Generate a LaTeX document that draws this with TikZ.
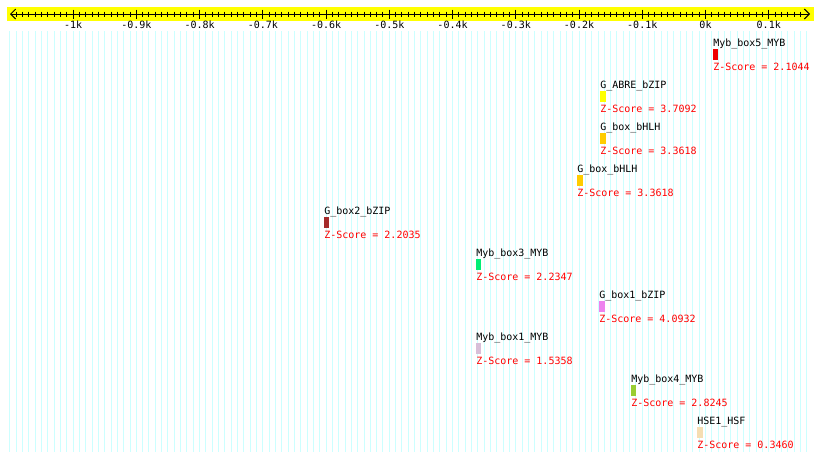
\documentclass[tikz,border=0pt]{standalone}
\usepackage{fontspec}
\setmonofont{DejaVu Sans Mono}
\usetikzlibrary{arrows.meta, positioning}
\definecolor{axisyellow}{HTML}{FFFF00}
\definecolor{gridcyan}{HTML}{CCFFFF}
\definecolor{zred}{HTML}{FF0000}
\definecolor{mred}{HTML}{EE0000}
\definecolor{myellow}{HTML}{FFFF00}
\definecolor{mgold}{HTML}{FFCC00}
\definecolor{mbrown}{HTML}{A52A2A}
\definecolor{mgreen}{HTML}{00EE76}
\definecolor{mviolet}{HTML}{EE82EE}
\definecolor{mthistle}{HTML}{D8BFD8}
\definecolor{molive}{HTML}{9ACD32}
\definecolor{mwheat}{HTML}{F5DEB3}

\begin{document}
\begin{tikzpicture}[x=0.75pt,y=-0.75pt,
    gridln/.style={draw=gridcyan,line width=0.75pt},
    tk/.style={line width=0.75pt},
    mono/.style={font=\ttfamily\fontsize{7.5}{9}\selectfont,inner sep=0pt},
    tl/.style={mono,anchor=base},
    mbox/.style={draw=none,minimum height=8.25pt,inner sep=0pt,anchor=north west},
    lbl/.style={mono,anchor=base west},
    zs/.style={lbl,text=zred}]
    \useasboundingbox (0,0) rectangle (820,461);
    % grid, one line every 10 bp
    \foreach \b in {-1100,-1090,...,160}
      \draw[gridln] ({705.5+0.6324*\b},31) -- ({705.5+0.6324*\b},452);
    % axis
    \fill[axisyellow] (7,7) rectangle (814,21);
    \coordinate (al) at (10,14);
    \coordinate (ar) at (810,14);
    \draw[tk,{Straight Barb[length=3.75pt,width=7.5pt]}-{Straight Barb[length=3.75pt,width=7.5pt]}] (al) -- (ar);
    \foreach \b in {-1090,-1080,...,150}
      \draw[tk] ({705.5+0.6324*\b},11.5) -- ++(0,5);
    \foreach \b/\t [count=\i] in {-1000/-1k,-900/-0.9k,-800/-0.8k,-700/-0.7k,-600/-0.6k,-500/-0.5k,-400/-0.4k,-300/-0.3k,-200/-0.2k,-100/-0.1k,0/0k,100/0.1k}{
      \draw[tk] ({705.5+0.6324*\b},9.5) -- ++(0,9);
      \node[tl] (t\i) at ({705.5+0.6324*\b},28.5) {\t};
    }
    % motifs
    \foreach \x/\y/\w/\c/\n/\s [count=\i] in {
        713/49/4.5/mred/Myb\_box5\_MYB/2.1044,
        600/91/6/myellow/G\_ABRE\_bZIP/3.7092,
        600/133/6/mgold/G\_box\_bHLH/3.3618,
        577/175/6/mgold/G\_box\_bHLH/3.3618,
        324/217/5/mbrown/G\_box2\_bZIP/2.2035,
        476/259/5/mgreen/Myb\_box3\_MYB/2.2347,
        599/301/6/mviolet/G\_box1\_bZIP/4.0932,
        476/343/5/mthistle/Myb\_box1\_MYB/1.5358,
        631/385/5/molive/Myb\_box4\_MYB/2.8245,
        697/427/6/mwheat/HSE1\_HSF/0.3460}{
      \node[mbox,fill=\c,minimum width={\w*0.75pt}] (box\i) at (\x,\y) {};
      \node[lbl] (lbl\i) at ([yshift=2.25pt]box\i.north west) {\n};
      \node[zs] (z\i) at ([yshift=-7.5pt]box\i.south west) {Z-Score = \s};
    }
  \end{tikzpicture}
\end{document}
